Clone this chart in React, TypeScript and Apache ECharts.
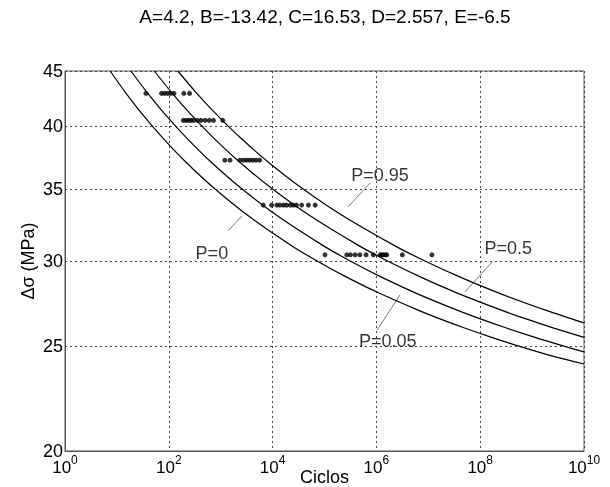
import React, { useEffect, useRef } from "react";
import * as echarts from "echarts";

const titleText = "A=4.2, B=-13.42, C=16.53, D=2.557, E=-6.5";
const xTickExponents = [0, 2, 4, 6, 8, 10];
const yTicks = [20, 25, 30, 35, 40, 45];

// Percentile curves: log10(Ciclos) and Δσ (MPa)
const p0LogN = [0.87, 1.163, 1.497, 1.886, 2.342, 2.886, 3.546, 4.366, 4.857, 5.417, 6.061, 6.813, 7.237, 7.699, 8.205, 8.762, 9.377, 10];
const p0Stress = [45, 43, 41, 39, 37, 35, 33, 31, 30, 29, 28, 27, 26.5, 26, 25.5, 25, 24.5, 24.08];
const p005LogN = [1.269, 1.58, 1.934, 2.346, 2.829, 3.406, 4.105, 4.974, 5.495, 6.088, 6.771, 7.567, 8.017, 8.506, 9.042, 9.632, 10];
const p005Stress = [45, 43, 41, 39, 37, 35, 33, 31, 30, 29, 28, 27, 26.5, 26, 25.5, 25, 24.71];
const p05LogN = [1.721, 2.051, 2.429, 2.866, 3.38, 3.993, 4.737, 5.662, 6.215, 6.846, 7.572, 8.42, 8.898, 9.418, 10];
const p05Stress = [45, 43, 41, 39, 37, 35, 33, 31, 30, 29, 28, 27, 26.5, 26, 25.49];
const p095LogN = [2.173, 2.522, 2.922, 3.386, 3.931, 4.581, 5.369, 6.349, 6.935, 7.604, 8.374, 9.272, 10];
const p095Stress = [45, 43, 41, 39, 37, 35, 33, 31, 30, 29, 28, 27, 26.29];

// Test results: stress level and log10(cycles)
const row1Stress = 42.9;
const row1LogN = [1.56, 1.86, 1.92, 1.98, 2.04, 2.1, 2.29, 2.4];
const row2Stress = 40.5;
const row2LogN = [2.28, 2.33, 2.38, 2.43, 2.48, 2.55, 2.62, 2.7, 2.78, 2.86, 3.04];
const row3Stress = 37.2;
const row3LogN = [3.08, 3.18, 3.37, 3.44, 3.5, 3.56, 3.62, 3.68, 3.75];
const row4Stress = 33.8;
const row4LogN = [3.82, 3.98, 4.08, 4.14, 4.21, 4.27, 4.34, 4.4, 4.46, 4.56, 4.69, 4.82];
const row5Stress = 30.4;
const row5LogN = [5.01, 5.43, 5.5, 5.59, 5.68, 5.8, 5.94, 6.07, 6.1, 6.13, 6.17, 6.2, 6.5, 7.07];

// Curve labels: text, log10(N), Δσ
const labelNames = ["P=0.95", "P=0", "P=0.5", "P=0.05"];
const labelLogN = [6.07, 2.83, 8.54, 6.22];
const labelStress = [36.05, 30.52, 30.85, 25.29];
// Leader lines: start/end log10(N) and Δσ
const leaderLogN = [[5.877, 5.453], [3.141, 3.41], [8.227, 7.707], [6.012, 6.455]];
const leaderStress = [[35.43, 33.67], [31.99, 33.02], [29.93, 28.08], [25.89, 27.9]];

const FONT = "Arial, 'Liberation Sans', Helvetica, sans-serif";

export default function App() {
  const ref = useRef<HTMLDivElement>(null);
  useEffect(() => {
    const chart = echarts.init(ref.current!, null, { renderer: "svg" });
    const L = Math.log10;
    const curve = (xs: number[], ys: number[]) => xs.map((x, i) => [x, L(ys[i])]);
    const row = (xs: number[], s: number) => xs.map((x) => [x, L(s)]);
    const lineSeries = (name: string, data: number[][]) => ({
      name,
      type: "line",
      data,
      smooth: 0.3,
      showSymbol: false,
      symbol: "none",
      lineStyle: { color: "#000", width: 1.2 },
      silent: true,
      z: 3,
    });
    const points = [
      ...row(row1LogN, row1Stress),
      ...row(row2LogN, row2Stress),
      ...row(row3LogN, row3Stress),
      ...row(row4LogN, row4Stress),
      ...row(row5LogN, row5Stress),
    ];
    const option = {
      animation: false,
      textStyle: { fontFamily: FONT },
      title: {
        text: titleText,
        left: 320,
        textAlign: "center",
        top: 2,
        textStyle: { fontFamily: FONT, fontSize: 19, fontWeight: "normal", color: "#000" },
      },
      grid: {
        left: 65,
        right: 26,
        top: 71,
        bottom: 36,
        containLabel: false,
        outerBoundsMode: "none",
        show: true,
        borderColor: "#555",
        borderWidth: 1,
        backgroundColor: "#fff",
      },
      xAxis: {
        type: "value",
        min: xTickExponents[0],
        max: xTickExponents[xTickExponents.length - 1],
        interval: 2,
        name: "Ciclos",
        nameLocation: "middle",
        nameGap: 17,
        nameMoveOverlap: false,
        nameTextStyle: { fontFamily: FONT, fontSize: 18, color: "#000" },
        axisLine: { show: true, lineStyle: { color: "#555", width: 1 } },
        axisTick: { show: false },
        splitLine: { show: true, lineStyle: { color: "#444", type: [2, 3], width: 1 } },
        axisLabel: {
          margin: 3,
          formatter: (v: number) => `{b|10}{s|${v}}`,
          rich: {
            b: { fontFamily: FONT, fontSize: 17, color: "#000", verticalAlign: "bottom", lineHeight: 22 },
            s: { fontFamily: FONT, fontSize: 12, color: "#000", verticalAlign: "top", lineHeight: 22 },
          },
        },
      },
      yAxis: {
        type: "value",
        min: L(yTicks[0]),
        max: L(yTicks[yTicks.length - 1]),
        name: "Δσ (MPa)",
        nameLocation: "middle",
        nameGap: 28,
        nameMoveOverlap: false,
        nameTextStyle: { fontFamily: FONT, fontSize: 18, color: "#000" },
        axisLine: { show: true, lineStyle: { color: "#555", width: 1 } },
        axisTick: { show: false, customValues: yTicks.map(L) },
        splitLine: { show: true, lineStyle: { color: "#444", type: [2, 3], width: 1 } },
        axisLabel: {
          margin: 2,
          fontFamily: FONT,
          fontSize: 18,
          color: "#000",
          customValues: yTicks.map(L),
          formatter: (v: number) => String(Math.round(Math.pow(10, v))),
        },
      },
      series: [
        lineSeries("P=0", curve(p0LogN, p0Stress)),
        lineSeries("P=0.05", curve(p005LogN, p005Stress)),
        lineSeries("P=0.5", curve(p05LogN, p05Stress)),
        lineSeries("P=0.95", curve(p095LogN, p095Stress)),
        {
          name: "Ensayos",
          type: "scatter",
          data: points,
          symbol: "circle",
          symbolSize: 5,
          itemStyle: { color: "#000" },
          silent: true,
          z: 4,
        },
        {
          name: "leaders",
          type: "lines",
          coordinateSystem: "cartesian2d",
          data: leaderLogN.map((xs, i) => ({
            coords: [
              [xs[0], L(leaderStress[i][0])],
              [xs[1], L(leaderStress[i][1])],
            ],
          })),
          lineStyle: { color: "#777", width: 1, opacity: 1 },
          silent: true,
          z: 2,
        },
        {
          name: "labels",
          type: "scatter",
          data: labelNames.map((n, i) => ({ name: n, value: [labelLogN[i], L(labelStress[i])] })),
          symbolSize: 1,
          itemStyle: { color: "rgba(0,0,0,0)" },
          label: {
            show: true,
            position: "inside",
            formatter: (p: any) => p.name,
            fontFamily: FONT,
            fontSize: 18,
            color: "#000",
          },
          silent: true,
          z: 5,
        },
      ],
    };
    chart.setOption(option as any);
    return () => chart.dispose();
  }, []);
  return <div ref={ref} style={{ position: "fixed", left: 0, top: 0, width: 610, height: 487 }} />;
}
